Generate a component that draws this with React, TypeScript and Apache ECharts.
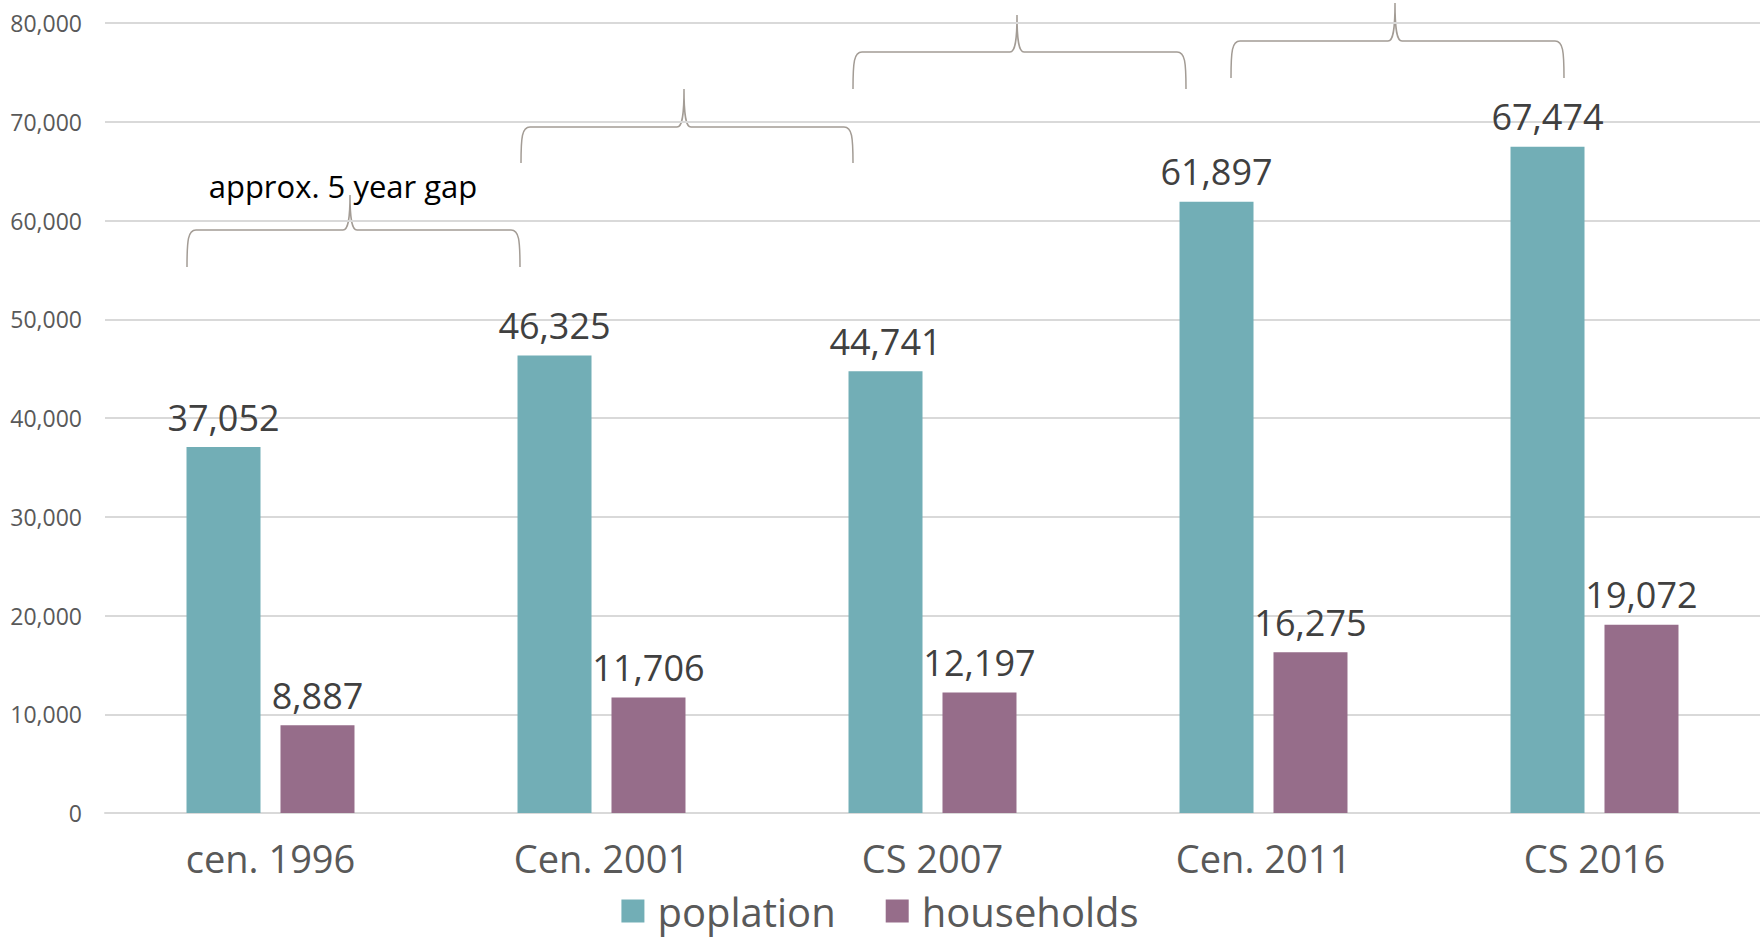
import React, { useEffect, useRef } from "react";
import * as echarts from "echarts";

const categories = ["cen. 1996", "Cen. 2001", "CS 2007", "Cen. 2011", "CS 2016"];
const population = [37052, 46325, 44741, 61897, 67474];
const households = [8887, 11706, 12197, 16275, 19072];
const seriesNames = ["poplation", "households"];
const yTicks = { min: 0, max: 80000, interval: 10000 };
const annotationText = "approx. 5 year gap";

const FONT = "'Open Sans', Lato, sans-serif";
const BRACE_COLOR = "#a39c95";

// [x1, x2, xPeak, yBottom, yHorizontal, yPeak]
const braces: number[][] = [
  [187, 520, 350, 267, 230, 195],
  [521, 853, 684, 163, 127, 89],
  [853, 1186, 1017, 89, 52, 15],
  [1231, 1564, 1395, 78, 41, 3],
];

function bracePath(b: number[]) {
  const [x1, x2, xm, yb, yh, yp] = b;
  return (
    `M${x1},${yb} C${x1},${yh + 10} ${x1 + 1},${yh} ${x1 + 9},${yh} ` +
    `L${xm - 7},${yh} C${xm - 2},${yh} ${xm},${yh - 10} ${xm},${yp} ` +
    `C${xm},${yh - 10} ${xm + 2},${yh} ${xm + 7},${yh} ` +
    `L${x2 - 9},${yh} C${x2 - 1},${yh} ${x2},${yh + 10} ${x2},${yb}`
  );
}

braces.forEach((b, i) => {
  echarts.graphic.registerShape("brace" + i, echarts.graphic.extendPath(bracePath(b), {}));
});

const fmt = (v: number) => v.toLocaleString("en-US");

export default function App() {
  const ref = useRef<HTMLDivElement>(null);
  useEffect(() => {
    if (!ref.current) return;
    const chart = echarts.init(ref.current, undefined, { renderer: "svg" });
    const labelStyle = {
      show: true,
      position: "top" as const,
      distance: 12,
      fontSize: 36,
      fontFamily: FONT,
      color: "#404040",
      formatter: (p: any) => fmt(p.value),
    };
    chart.setOption({
      animation: false,
      backgroundColor: "#ffffff",
      grid: { left: 105, right: 0, top: 23, bottom: 131, containLabel: false },
      legend: {
        data: seriesNames,
        top: 884,
        left: "center",
        itemWidth: 23,
        itemHeight: 23,
        itemGap: 50,
        icon: "rect",
        textStyle: {
          fontSize: 40,
          lineHeight: 44,
          fontFamily: FONT,
          color: "#595959",
          padding: [0, 0, 0, 8],
        },
      },
      xAxis: {
        type: "category",
        data: categories,
        axisLine: { show: true, lineStyle: { color: "#d9d9d9", width: 2 } },
        axisTick: { show: false },
        axisLabel: { fontSize: 38, fontFamily: FONT, color: "#595959", margin: 26 },
      },
      yAxis: {
        type: "value",
        min: yTicks.min,
        max: yTicks.max,
        interval: yTicks.interval,
        axisLine: { show: false },
        axisTick: { show: false },
        splitLine: { lineStyle: { color: "#d9d9d9", width: 2 } },
        axisLabel: {
          fontSize: 23,
          fontFamily: FONT,
          color: "#595959",
          margin: 23,
          formatter: (v: number) => fmt(v),
        },
      },
      series: [
        {
          name: seriesNames[0],
          type: "bar",
          data: population,
          barWidth: 74,
          barGap: "27%",
          itemStyle: { color: "#72aeb6" },
          label: labelStyle,
        },
        {
          name: seriesNames[1],
          type: "bar",
          data: households,
          barWidth: 74,
          barGap: "27%",
          itemStyle: { color: "#966d8a" },
          label: labelStyle,
        },
      ],
      graphic: [
        ...braces.map((_, i) => ({
          type: "brace" + i,
          x: 0,
          y: 0,
          silent: true,
          style: { fill: "none", stroke: BRACE_COLOR, lineWidth: 1.5 },
        })),
        {
          type: "text",
          x: 343,
          y: 186,
          style: {
            text: annotationText,
            fontSize: 31,
            fontFamily: FONT,
            fill: "#000000",
            align: "center",
            verticalAlign: "middle",
          },
        },
      ],
    });
    return () => chart.dispose();
  }, []);
  return (
    <div
      ref={ref}
      style={{ position: "fixed", left: 0, top: 0, width: 1760, height: 944 }}
    />
  );
}
